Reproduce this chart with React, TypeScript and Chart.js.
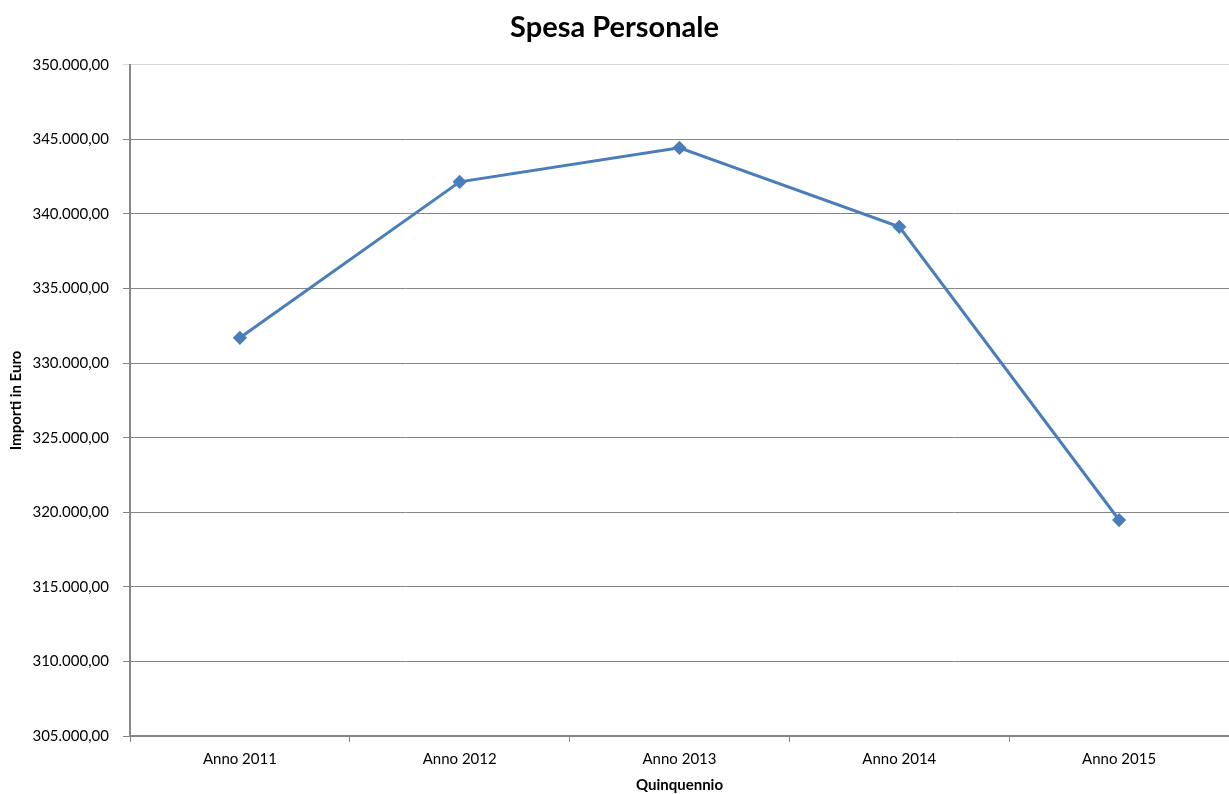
import React, { useEffect, useRef } from "react";
import { Chart, registerables } from "chart.js";

Chart.register(...registerables);

const categories = ["Anno 2011", "Anno 2012", "Anno 2013", "Anno 2014", "Anno 2015"];
const spesaValues = [331700, 342150, 344430, 339140, 319480];
const yMin = 305000;
const yMax = 350000;
const yStep = 5000;

const FONT = "Lato, 'Open Sans', sans-serif";

function formatIt(v: number): string {
  const s = Math.round(v).toString().replace(/\B(?=(\d{3})+(?!\d))/g, ".");
  return s + ",00";
}

export default function App() {
  const ref = useRef<HTMLCanvasElement | null>(null);
  useEffect(() => {
    document.body.style.margin = "0";
    if (!ref.current) return;
    const chart = new Chart(ref.current, {
      type: "line",
      data: {
        labels: categories,
        datasets: [
          {
            label: "Spesa Personale",
            data: spesaValues,
            borderColor: "#4a7ebb",
            backgroundColor: "#4a7ebb",
            borderWidth: 3,
            pointStyle: "rectRot",
            pointRadius: 5,
            pointHoverRadius: 5,
            tension: 0,
          },
        ],
      },
      options: {
        animation: false,
        responsive: true,
        maintainAspectRatio: false,
        layout: { padding: 0, autoPadding: false },
        plugins: {
          legend: { display: false },
          tooltip: { enabled: false },
          title: {
            display: true,
            text: "Spesa Personale",
            color: "#000",
            font: { family: FONT, size: 29, weight: "bold" },
            padding: { top: 10, bottom: 20 },
          },
        },
        scales: {
          x: {
            type: "category",
            offset: true,
            grid: {
              display: true,
              offset: true,
              drawOnChartArea: false,
              drawTicks: true,
              tickLength: 6,
              color: "#868686",
              lineWidth: 1,
            },
            border: { display: true, color: "#868686", width: 2 },
            ticks: {
              color: "#000",
              font: { family: FONT, size: 15 },
              padding: 8,
              maxRotation: 0,
            },
            title: {
              display: true,
              text: "Quinquennio",
              color: "#000",
              font: { family: FONT, size: 15, weight: "bold" },
              padding: { top: 4, bottom: 0 },
            },
            afterFit: (scale: any) => {
              scale.height = 58;
              scale.paddingLeft = 0;
              scale.paddingRight = 0;
            },
          },
          y: {
            min: yMin,
            max: yMax,
            grid: {
              color: (ctx: any) => (ctx.tick && ctx.tick.value === yMax ? "#d9d9d9" : "#868686"),
              lineWidth: 1,
              drawTicks: true,
              tickLength: 7,
            },
            border: { display: true, color: "#868686", width: 2 },
            ticks: {
              stepSize: yStep,
              color: "#000",
              font: { family: FONT, size: 15 },
              padding: 14,
              callback: (v: any) => formatIt(Number(v)),
            },
            title: {
              display: true,
              text: "Importi in Euro",
              color: "#000",
              font: { family: FONT, size: 15, weight: "bold" },
              padding: { top: 7, bottom: 0 },
            },
            afterFit: (scale: any) => {
              scale.width = 130;
            },
          },
        },
      },
    });
    return () => chart.destroy();
  }, []);
  return (
    <div style={{ position: "fixed", left: 0, top: 0, width: 1229, height: 794, background: "#fff" }}>
      <canvas ref={ref} />
    </div>
  );
}
